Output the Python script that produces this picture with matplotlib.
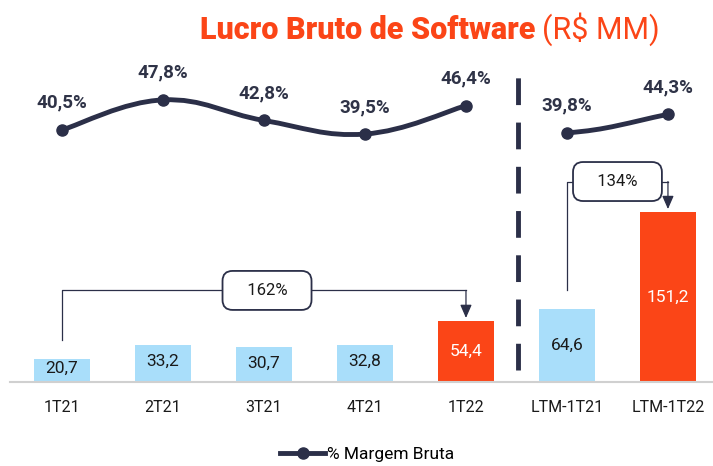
import matplotlib.pyplot as plt
from matplotlib.path import Path
import matplotlib.patches as mpatches
from matplotlib.lines import Line2D
import numpy as np

plt.rcParams['font.family'] = ['Roboto', 'DejaVu Sans']

periods = ['1T21', '2T21', '3T21', '4T21', '1T22', 'LTM-1T21', 'LTM-1T22']
lucro = [20.7, 33.2, 30.7, 32.8, 54.4, 64.6, 151.2]
margem = [40.5, 47.8, 42.8, 39.5, 46.4, 39.8, 44.3]
highlight = [False, False, False, False, True, False, True]
growth = [('162%', 0, 4), ('134%', 5, 6)]

blue = '#A9DEFA'
orange = '#FB4517'
navy = '#2B2F48'

fig = plt.figure(figsize=(7.13, 4.66), dpi=100)
# axes in pixels: left 10, right 713, baseline at 382 from top, top at 30
ax = fig.add_axes([10 / 713, 84 / 466, 703 / 713, 352 / 466])
ax.set_xlim(-0.515, 6.446)
ax.set_ylim(0, 352 / 1.125)

x = np.arange(len(periods))
colors = [orange if h else blue for h in highlight]
ax.bar(x, lucro, width=0.56, color=colors, zorder=2)
for xi, v, h in zip(x, lucro, highlight):
    ypos = v / 2 if v > 40 else v * 0.55
    ax.text(xi, max(ypos, 12), f'{v:.1f}'.replace('.', ','), ha='center', va='center',
            fontsize=12.5, color='white' if h else '#1a1a1a', zorder=3)

for s in ['top', 'right', 'left']:
    ax.spines[s].set_visible(False)
ax.spines['bottom'].set_color('#d0d0d0')
ax.spines['bottom'].set_linewidth(1.5)
ax.set_yticks([])
ax.set_xticks(x)
ax.set_xticklabels(periods, fontsize=11.5, color='#1a1a1a')
ax.tick_params(axis='x', length=0, pad=13)

# separator
ax.axvline(4.515, ymin=0.034, ymax=0.909, color=navy, lw=3.5,
           dashes=(5.5, 3.6), zorder=1)

# margin line on twin axis
ax2 = ax.twinx()
ax2.set_ylim(-20.8, 64.8)
ax2.set_axis_off()


def smooth_path(xs, ys, t=0.2):
    # bezier through the points, flat tangents at the ends
    verts = [(xs[0], ys[0])]
    codes = [Path.MOVETO]
    n = len(xs)
    for i in range(n - 1):
        x0, y0 = xs[max(i - 1, 0)], ys[max(i - 1, 0)]
        x1, y1 = xs[i], ys[i]
        x2, y2 = xs[i + 1], ys[i + 1]
        x3, y3 = xs[min(i + 2, n - 1)], ys[min(i + 2, n - 1)]
        dy1 = (y2 - y0) * t if i > 0 else (y2 - y1) * t
        dy2 = (y3 - y1) * t if i < n - 2 else (y2 - y1) * t
        c1 = (x1 + (x2 - x0) * t if i > 0 else x1 + (x2 - x1) * t, y1 + dy1)
        c2 = (x2 - (x3 - x1) * t if i < n - 2 else x2 - (x2 - x1) * t, y2 - dy2)
        if n == 2:
            c1 = (x1 + (x2 - x1) * 0.4, y1 + (y2 - y1) * 0.15)
            c2 = (x2 - (x2 - x1) * 0.4, y2 - (y2 - y1) * 0.45)
        verts += [c1, c2, (x2, y2)]
        codes += [Path.CURVE4] * 3
    return Path(verts, codes)


for seg in [slice(0, 5), slice(5, 7)]:
    xs = list(x[seg])
    ys = margem[seg]
    ax2.add_patch(mpatches.PathPatch(smooth_path(xs, ys), fill=False,
                                     edgecolor=navy, lw=3.5, capstyle='round'))
    ax2.plot(xs, ys, 'o', color=navy, ms=8, zorder=3)
for xi, m in zip(x, margem):
    ax2.annotate(f'{m:.1f}%'.replace('.', ','), (xi, m), xytext=(0, 19.5),
                 textcoords='offset points', ha='center', va='center',
                 fontsize=13.5, fontweight='bold', color='#2f3347')

# growth brackets
for label, i0, i1 in growth:
    level = lucro[i1] + 27
    y0 = lucro[i0] + 17
    ax.plot([x[i0], x[i0], x[i1]], [y0, level, level], color=navy, lw=0.9, zorder=2)
    ax.annotate('', xy=(x[i1], lucro[i1] + 2.5), xytext=(x[i1], level),
                arrowprops=dict(arrowstyle='-|>,head_width=0.35,head_length=0.8',
                                color=navy, lw=0.9, shrinkA=0, shrinkB=0))
    ax.text((x[i0] + x[i1]) / 2 + (0.03 if i1 - i0 > 1 else 0), level, f'   {label}   ',
            ha='center', va='center', fontsize=12, color='#1a1a1a', zorder=4,
            bbox=dict(boxstyle='round,pad=0.72,rounding_size=0.6', fc='white',
                      ec=navy, lw=1.3))

# title
fig.text(535 / 713, 1 - 39 / 466, 'Lucro Bruto de Software', fontsize=22, fontweight='heavy',
         color=orange, ha='right', va='baseline')
fig.text(542 / 713, 1 - 39 / 466, '(R$ MM)', fontsize=22, color=orange,
         ha='left', va='baseline')

# legend
handle = Line2D([], [], color=navy, lw=3.5, marker='o', ms=8)
fig.legend([handle], ['% Margem Bruta'], loc='center', bbox_to_anchor=(0.515, 0.025),
           frameon=False, fontsize=12.5, handlelength=2.6, handletextpad=0.1)

fig.savefig('out.png', dpi=100)
